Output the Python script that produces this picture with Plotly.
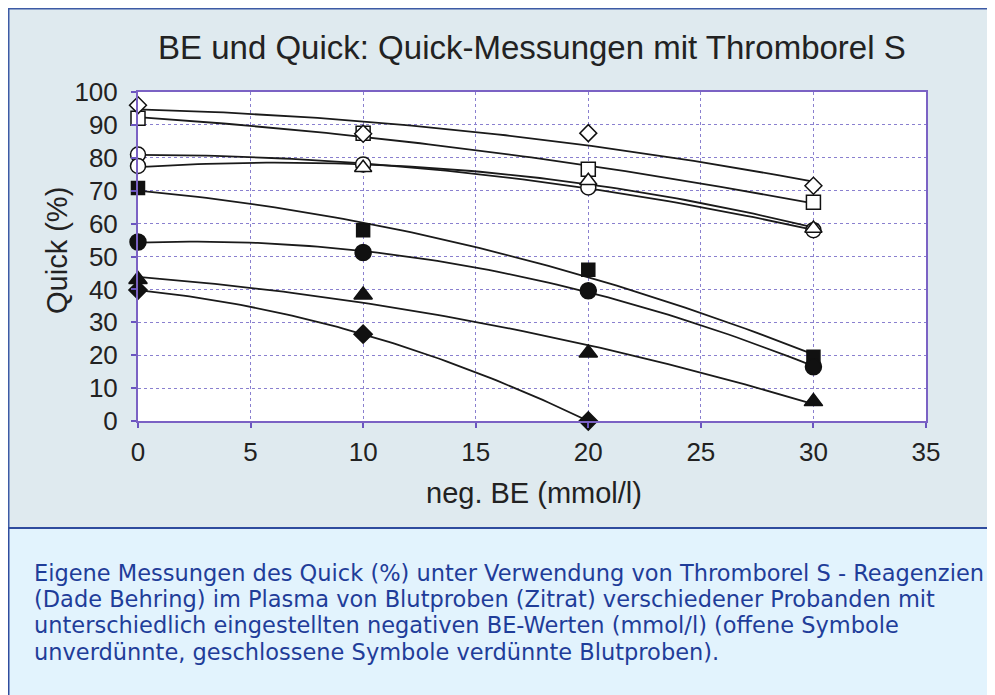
import numpy as np
import plotly.graph_objects as go

# ---------------- data ----------------
be_values = [0, 10, 20, 30]
be_values_short = [0, 10, 20]

open_diamond = [96.0, 87.3, 87.5, 71.5]
open_square = [92.0, 87.5, 76.5, 66.5]
open_circle = [81.0, 78.0, 71.0, 58.0]
open_triangle = [77.5, 77.0, 73.0, 58.5]

filled_square = [70.8, 58.0, 46.0, 19.5]
filled_circle = [54.4, 51.2, 39.6, 16.5]
filled_triangle = [43.0, 38.3, 20.7, 5.9]
filled_diamond = [39.8, 26.4, 0.0]

x_ticks = [0, 5, 10, 15, 20, 25, 30, 35]
y_ticks = [0, 10, 20, 30, 40, 50, 60, 70, 80, 90, 100]

title_text = "BE und Quick: Quick-Messungen mit Thromborel S"
x_title = "neg. BE (mmol/l)"
y_title = "Quick (%)"
caption_lines = [
    "Eigene Messungen des Quick (%) unter Verwendung von Thromborel S - Reagenzien",
    "(Dade Behring) im Plasma von Blutproben (Zitrat) verschiedener Probanden mit",
    "unterschiedlich eingestellten negativen BE-Werten (mmol/l) (offene Symbole",
    "unverdünnte, geschlossene Symbole verdünnte Blutproben).",
]

# ---------------- layout helpers (page pixel coords -> paper coords) ----------------
W, H = 995, 695
OFF = 8  # page body margin
L, R, T, B = 138 - OFF, 926 - OFF, 92 - OFF, 421 - OFF


def px2x(px):
    return (px - OFF - L) / (R - L)


def py2y(py):
    return (B - (py - OFF)) / (B - T)


series = [
    # (x, y, symbol, size, fill)
    (be_values, open_square, "square", 14, "white"),
    (be_values, open_diamond, "diamond", 13, "white"),
    (be_values, open_circle, "circle", 15, "white"),
    (be_values, open_triangle, ["circle", "triangle-up", "triangle-up", "triangle-up"], 15, "white"),
    (be_values, filled_square, "square", 13, "#111111"),
    (be_values, filled_circle, "circle", 16, "#111111"),
    (be_values, filled_triangle, "triangle-up", 16, "#111111"),
    (be_values_short, filled_diamond, "diamond", 14, "#111111"),
]

fig = go.Figure()

# polynomial (2nd order) trend lines, computed from the data
for xs, ys, sym, size, fill in series:
    coef = np.polyfit(xs, ys, 2)
    xx = np.linspace(min(xs), max(xs), 80)
    fig.add_trace(go.Scatter(
        x=xx, y=np.polyval(coef, xx), mode="lines",
        line=dict(color="#1a1a1a", width=1.8),
        hoverinfo="skip", showlegend=False, cliponaxis=False,
    ))

for xs, ys, sym, size, fill in series:
    fig.add_trace(go.Scatter(
        x=xs, y=ys, mode="markers", showlegend=False, cliponaxis=False,
        marker=dict(symbol=sym, size=size, color=fill,
                    line=dict(color="#111111", width=1.5)),
    ))

shapes = [
    dict(type="rect", xref="paper", yref="paper", layer="below",
         x0=px2x(8.5), x1=px2x(1010), y0=py2y(528), y1=py2y(8.5),
         fillcolor="#dfeaef", line=dict(color="#3d5aa5", width=2)),
    dict(type="rect", xref="paper", yref="paper", layer="below",
         x0=px2x(8.5), x1=px2x(1010), y0=py2y(720), y1=py2y(528),
         fillcolor="#e2f3fd", line=dict(color="#2f4c9e", width=2)),
    dict(type="rect", xref="paper", yref="paper", layer="below",
         x0=0, x1=1, y0=0, y1=1, fillcolor="white", line=dict(width=0)),
]

annotations = [
    dict(text=title_text, xref="paper", yref="paper", x=px2x(532), y=py2y(47),
         xanchor="center", yanchor="middle", showarrow=False,
         font=dict(family="Liberation Sans, Arial", size=33, color="#222222")),
    dict(text=x_title, xref="paper", yref="paper", x=px2x(534), y=py2y(493),
         xanchor="center", yanchor="middle", showarrow=False,
         font=dict(family="Liberation Sans, Arial", size=29, color="#222222")),
    dict(text=y_title, xref="paper", yref="paper", x=px2x(57), y=py2y(251),
         xanchor="center", yanchor="middle", showarrow=False, textangle=-90,
         font=dict(family="Liberation Sans, Arial", size=29, color="#222222")),
]

caption_y = [573, 599, 625, 652]
for line, cy in zip(caption_lines, caption_y):
    annotations.append(dict(
        text=line, xref="paper", yref="paper", x=px2x(32), y=py2y(cy),
        xanchor="left", yanchor="middle", align="left", showarrow=False,
        font=dict(family="DejaVu Sans, Verdana", size=22.5, color="#1f3d99")))

axis_common = dict(
    showline=True, linecolor="#7b62c4", linewidth=2, mirror=True,
    showgrid=True, gridcolor="#8a80cf", gridwidth=1, griddash="dot",
    ticks="outside", ticklen=5, tickcolor="#6a55c0", tickwidth=2,
    zeroline=False,
    tickfont=dict(family="Liberation Sans, Arial", size=26, color="#222222"),
)

fig.update_layout(
    width=W, height=H,
    margin=dict(l=L, r=W - R, t=T, b=H - B),
    paper_bgcolor="white", plot_bgcolor="white",
    shapes=shapes, annotations=annotations,
    xaxis=dict(range=[0, 35], tickvals=x_ticks, ticklabelstandoff=2, **axis_common),
    yaxis=dict(range=[0, 100], tickvals=y_ticks, ticklabelstandoff=8, **axis_common),
)

fig.write_html("out.html")
